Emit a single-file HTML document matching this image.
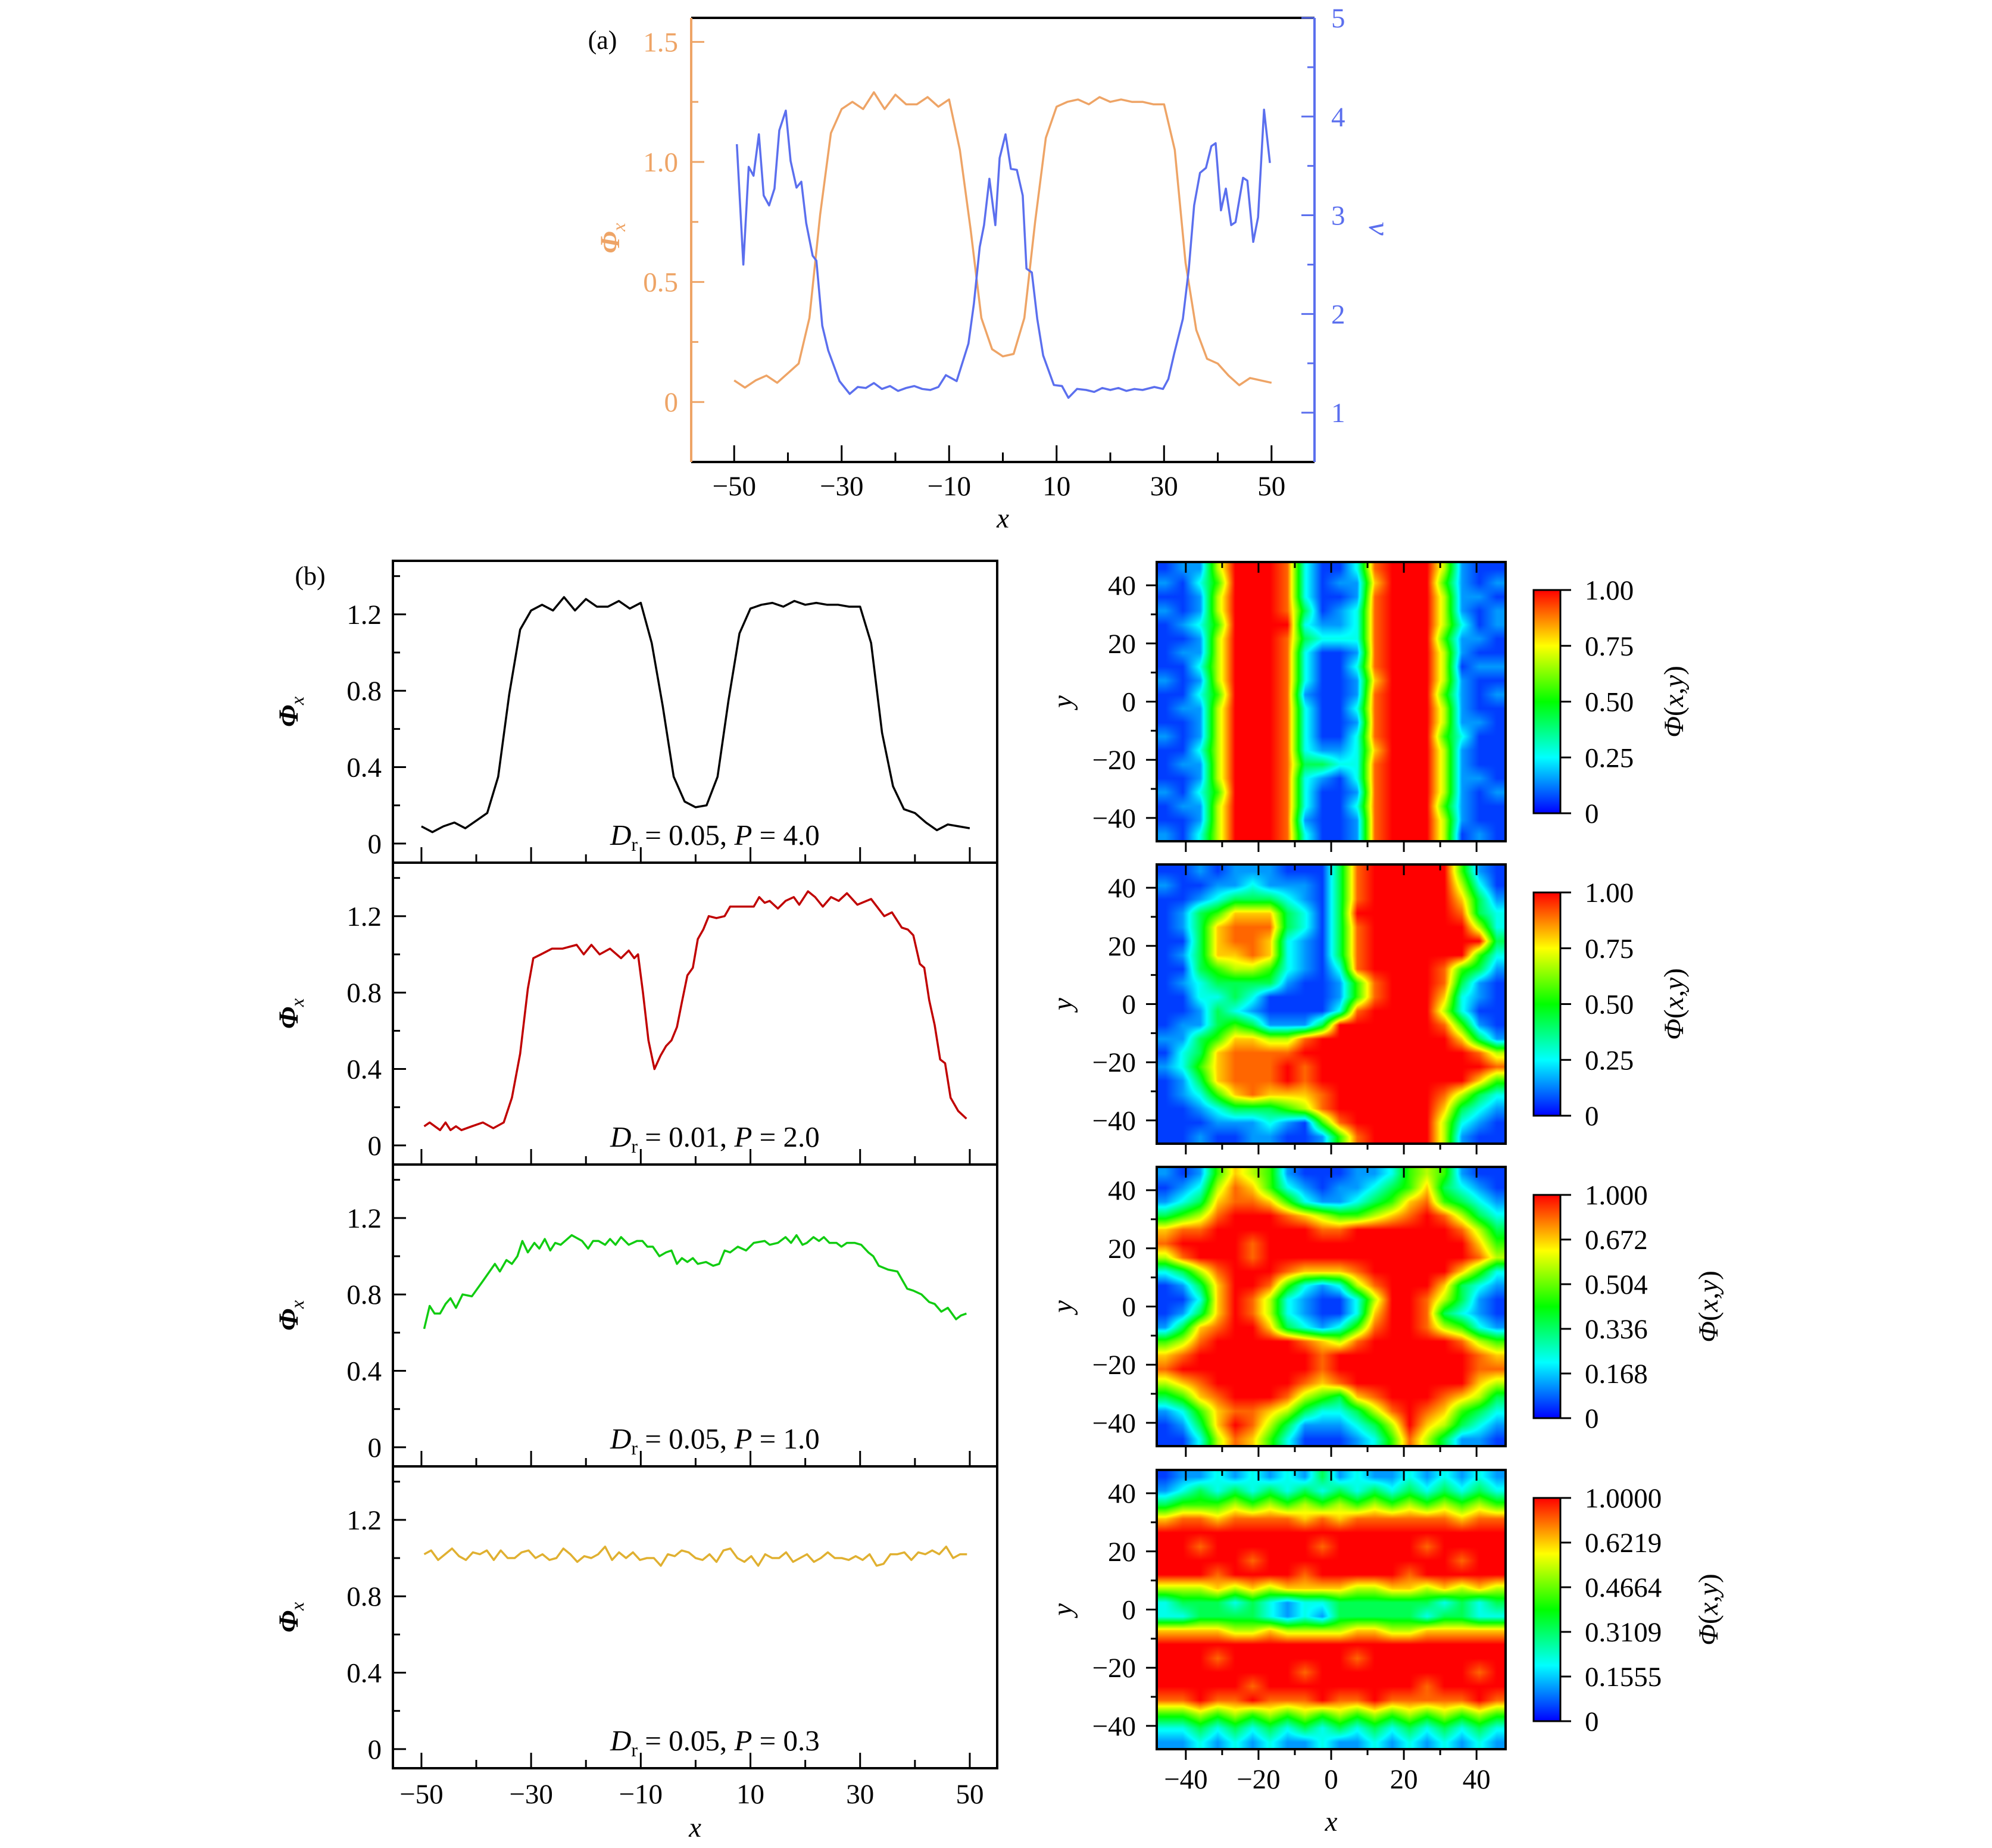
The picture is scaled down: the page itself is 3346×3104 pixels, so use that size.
<!DOCTYPE html>
<html><head><meta charset="utf-8">
<style>
html,body{margin:0;padding:0;background:#fff;}
#wrap{position:relative;width:3346px;height:3104px;overflow:hidden;background:#fff;}
canvas{position:absolute;}
svg{position:absolute;left:0;top:0;}
text{font-family:"Liberation Serif",serif;}
</style></head>
<body>
<div id="wrap">
<canvas id="hm0"></canvas>
<canvas id="hm1"></canvas>
<canvas id="hm2"></canvas>
<canvas id="hm3"></canvas>
<svg id="svg" width="3346" height="3104" xmlns="http://www.w3.org/2000/svg"></svg>
</div>
<script>
// ---------- data ----------
const phiAX=[-50,-48,-46,-44,-42,-40,-38,-36,-34,-32,-30,-28,-26,-24,-22,-20,-18,-16,-14,-12,-10,-8,-6,-4,-2,0,2,4,6,8,10,12,14,16,18,20,22,24,26,28,30,32,34,36,38,40,42,44,46,48,50];
const phiAY=[0.09,0.06,0.09,0.11,0.08,0.12,0.16,0.35,0.78,1.12,1.22,1.25,1.22,1.29,1.22,1.28,1.24,1.24,1.27,1.23,1.26,1.05,0.72,0.35,0.22,0.19,0.20,0.35,0.75,1.10,1.23,1.25,1.26,1.24,1.27,1.25,1.26,1.25,1.25,1.24,1.24,1.05,0.58,0.30,0.18,0.16,0.11,0.07,0.10,0.09,0.08];
const nuX=[-49.5,-48.3,-47.3,-46.4,-45.4,-44.5,-43.5,-42.5,-41.6,-40.4,-39.5,-38.4,-37.5,-36.6,-35.4,-34.7,-33.6,-32.5,-30.4,-28.5,-27,-25.5,-24,-22.5,-21,-19.5,-18,-16.5,-15,-13.5,-12,-10.6,-8.6,-6.4,-5.4,-4.3,-3.5,-2.5,-1.4,-0.6,0.5,1.5,2.6,3.7,4.4,5.4,6.4,7.5,9.5,11,12.2,13.8,15.5,17,18.5,20,21.5,23,24.5,26,28.2,29.8,30.8,31.9,33.5,34.6,35.6,36.7,37.8,38.8,39.6,40.6,41.5,42.5,43.3,44.7,45.5,46.6,47.5,48.6,49.7];
const nuY=[3.72,2.5,3.49,3.4,3.82,3.2,3.1,3.27,3.86,4.06,3.55,3.28,3.34,2.92,2.59,2.54,1.88,1.63,1.32,1.19,1.26,1.25,1.3,1.24,1.27,1.22,1.25,1.27,1.24,1.23,1.26,1.38,1.32,1.7,2.1,2.68,2.9,3.37,2.9,3.58,3.82,3.47,3.46,3.2,2.46,2.42,1.95,1.58,1.28,1.27,1.15,1.24,1.23,1.21,1.25,1.23,1.25,1.22,1.24,1.23,1.26,1.24,1.34,1.6,1.95,2.45,3.1,3.43,3.48,3.7,3.73,3.05,3.27,2.9,2.93,3.38,3.35,2.73,2.98,4.07,3.53];
const blackY=phiAY.slice();
const redX=[-49.5,-48.5,-46.6,-45.6,-44.7,-43.7,-42.7,-40.8,-38.8,-36.9,-35,-33.5,-32,-30.6,-29.6,-28.2,-26.2,-24.3,-21.7,-20.4,-19,-17.5,-15.6,-13.6,-12.2,-11.2,-10.5,-9.6,-8.6,-7.5,-6.4,-5.4,-4.4,-3.4,-2.5,-1.5,-0.5,0.4,1.4,2.4,3.8,5.3,6.3,8.2,10.6,11.6,12.6,13.5,15,16.4,17.9,18.9,20.5,21.8,23.2,24.7,26.1,27.6,29.5,32,34.4,35.8,37.6,38.7,39.7,40.9,41.7,42.6,43.6,44.6,45.5,46.5,47.9,49.4];
const redY=[0.10,0.12,0.08,0.12,0.08,0.10,0.08,0.10,0.12,0.09,0.12,0.25,0.48,0.82,0.98,1.00,1.03,1.03,1.05,1.00,1.05,1.00,1.03,0.98,1.02,0.98,1.00,0.80,0.55,0.40,0.47,0.52,0.55,0.62,0.75,0.89,0.93,1.08,1.13,1.20,1.19,1.20,1.25,1.25,1.25,1.30,1.27,1.28,1.24,1.28,1.30,1.26,1.33,1.30,1.25,1.30,1.28,1.32,1.26,1.29,1.20,1.22,1.14,1.13,1.10,0.95,0.93,0.76,0.63,0.45,0.43,0.25,0.18,0.14];
const greenX=[-49.5,-48.5,-47.6,-46.6,-45.6,-44.7,-43.7,-42.5,-40.8,-38.8,-36.6,-35.7,-34.5,-33.5,-32.5,-31.6,-30.6,-29.4,-28.5,-27.5,-26.5,-25.6,-24.6,-22.6,-20.7,-19.6,-18.7,-17.7,-16.5,-15.6,-14.6,-13.6,-12.2,-10.7,-9.7,-8.8,-7.8,-6.6,-5.4,-4.4,-3.4,-2.5,-1.5,-0.5,0.4,1.9,3.2,4.3,5.3,6.3,7.7,9.2,10.6,12.6,13.5,15,16.4,17.4,18.4,19.5,20.3,21.5,22.5,23.4,24.4,25.7,26.6,27.6,29,30.2,31.5,32.4,33.4,35.1,36.8,38.6,39.7,41.2,42.6,43.6,44.8,46,47.5,48.4,49.4];
const greenY=[0.62,0.74,0.70,0.70,0.75,0.78,0.73,0.80,0.79,0.87,0.96,0.92,0.98,0.96,1.00,1.08,1.02,1.07,1.04,1.09,1.03,1.07,1.06,1.11,1.08,1.04,1.08,1.08,1.06,1.09,1.06,1.10,1.06,1.08,1.08,1.05,1.05,1.00,1.02,1.03,0.96,0.99,0.97,0.99,0.96,0.97,0.95,0.96,1.03,1.02,1.05,1.03,1.07,1.08,1.06,1.07,1.10,1.07,1.11,1.06,1.07,1.10,1.08,1.10,1.07,1.07,1.05,1.07,1.07,1.06,1.02,1.00,0.95,0.93,0.92,0.83,0.82,0.80,0.76,0.75,0.71,0.73,0.67,0.69,0.70];
const yellowY=[1.02,1.04,0.99,1.02,1.05,1.01,0.99,1.03,1.02,1.04,0.99,1.04,1.00,1.00,1.03,1.04,1.00,1.02,0.99,1.00,1.05,1.02,0.98,1.01,1.00,1.02,1.06,0.99,1.03,1.00,1.03,0.99,1.00,1.00,0.96,1.02,1.01,1.04,1.03,1.00,0.99,1.02,0.98,1.04,1.05,1.00,0.98,1.01,0.96,1.02,1.00,1.00,1.03,0.98,1.00,1.02,0.98,1.00,1.03,1.00,1.00,0.99,1.01,0.99,1.02,0.96,0.97,1.02,1.02,1.03,0.99,1.03,1.02,1.04,1.02,1.06,1.00,1.02,1.02];
const xTickLabels=["\u221250","\u221230","\u221210","10","30","50"];
const xTickVals=[-50,-30,-10,10,30,50];
const phiTicksA=[0,0.5,1.0,1.5];
const phiTickLabelsA=["0","0.5","1.0","1.5"];
const nuTicks=[1,2,3,4,5];
const phiTicksB=[0,0.4,0.8,1.2];
const phiTickLabelsB=["0","0.4","0.8","1.2"];
const mapTicks=[-40,-20,0,20,40];
const mapTickLabels=["\u221240","\u221220","0","20","40"];
const cbLabels=[["0","0.25","0.50","0.75","1.00"],["0","0.25","0.50","0.75","1.00"],["0","0.168","0.336","0.504","0.672","1.000"],["0","0.1555","0.3109","0.4664","0.6219","1.0000"]];
const annotations=[["0.05","4.0"],["0.01","2.0"],["0.05","1.0"],["0.05","0.3"]];
const digitLevels=[0,0.06,0.15,0.27,0.42,0.55,0.68,0.8,0.9,1];
const map1Rows=["12269998311389996211","21359998312279995212","11269998311289996221","21269998412389996212","12359999322389996312","11269998433389995221","12269998311289996211","11369998311389996122","21269998311279996211","11359998211289995212","12269998311389996211","11269998311289996221","21269998311389995311","11369998322379996211","12269998443389996211","11269998321389996221","21359998311289996212","12269998311389995211","11269998211289996211","21369998311289996121"];
const map2Rows=["11212221114899999521","21122322214899999631","11234443214899999742","12457774314999999843","12478884314899999963","11478873214899999994","12477873214899999953","11456653213899998542","12344442112589998421","11334311112589997321","11243211113899996311","12245422249999998521","22457766899999999742","13478888999999999986","23578889899999999998","12478889899999999975","12357877789999998643","11234445689999997432","11122232158999996321","11211221125899996211"];
const map3Rows=["21257652111223565211","12368753212234574321","23478875322345785432","45689998765567898643","78899999988999999864","89999899999999999975","68999899999999999986","34689998777899999753","12479985323689997432","11379863211369986421","12479863211379984321","24789974323589986532","56899999876899999865","78999999989999999987","89999999989999999988","67899999878999999976","45789998654789998764","23578876433468987543","12479864222346976432","11368753111235864221"];
const map4Rows=["12232323242322323232","23434343434343434343","45556565656565656565","78878888787888888788","99999999999999999999","99899999989999989999","99999899999999999899","99989999899999899999","66676767777667767676","34443432334444443434","33444432324444434433","77776676666776677777","99999999999999999999","99989999999899999999","99999999899999999989","99999899999999989999","88988988898898888898","55656565656565656565","33434343434343434343","22323232232232323232"];
const mapGrids=[map1Rows,map2Rows,map3Rows,map4Rows];

// ---------- helpers ----------
const NS="http://www.w3.org/2000/svg";
const svg=document.getElementById('svg');
function mk(tag,attrs,parent){const e=document.createElementNS(NS,tag);for(const k in attrs)e.setAttribute(k,attrs[k]);(parent||svg).appendChild(e);return e;}
function line(x1,y1,x2,y2,col,w,name,parent){const e=mk('line',{x1:x1,y1:y1,x2:x2,y2:y2,stroke:col,'stroke-width':w},parent);


return e;}
function txt(x,y,s,size,anchor,col,name,extra,parent){const e=mk('text',Object.assign({x:x,y:y,'font-size':size,'text-anchor':anchor,fill:col},extra||{}),parent);e.textContent=s;


return e;}
function scale(d0,d1,r0,r1){return v=>r0+(v-d0)/(d1-d0)*(r1-r0);}
function poly(xs,ys,sx,sy,col,w,name){const pts=xs.map((x,i)=>sx(x).toFixed(1)+','+sy(ys[i]).toFixed(1)).join(' ');
const e=mk('polyline',{points:pts,fill:'none',stroke:col,'stroke-width':w,'stroke-linejoin':'round'});


return e;}
const FS=47;

// ---------- panel (a) ----------
(function(){
 const X0=1161,X1=2208,Y0=30,Y1=776;
 const sx=scale(-58,58,X0,X1), sy=scale(-0.25,1.6,Y1,Y0), sy2=scale(0.5,5,Y1,Y0);
 const ORG='#EEA466', BLU='#5B6FEE';
 poly(phiAX,phiAY,sx,sy,ORG,3.5,'phi-x-line-a');
 poly(nuX,nuY,sx,sy2,BLU,3.5,'nu-line-a');
 line(X0,Y0,X1,Y0,'#000',4,'top-spine-a');
 line(X0,Y1,X1,Y1,'#000',4,'bottom-spine-a');
 line(X0,Y0,X0,Y1,ORG,4,'left-spine-a');
 line(X1,Y0,X1,Y1,BLU,4,'right-spine-a');
 for(let v=-50;v<=50;v+=10){const x=sx(v);line(x,Y1,x,Y1-(v%20===0?16:28),'#000',3,'x-tick-a');}
 xTickVals.forEach((v,i)=>txt(sx(v),832,xTickLabels[i],FS,'middle','#000','x-tick-label-a'));
 txt((X0+X1)/2,886,'x',FS,'middle','#000','x-axis-title-a',{'font-style':'italic'});
 for(let v=0;v<=1.5;v+=0.25){const y=sy(v);line(X0,y,X0+(Math.abs(v*2-Math.round(v*2))<1e-6?22:12),y,ORG,3,'phi-tick-a');}
 phiTicksA.forEach((v,i)=>txt(X0-22,sy(v)+16,phiTickLabelsA[i],FS,'end',ORG,'phi-tick-label-a'));
 for(let v=1;v<=5;v+=0.5){const y=sy2(v);line(X1,y,X1-(v%1===0?22:12),y,BLU,3,'nu-tick-a');}
 nuTicks.forEach(v=>txt(X1+28,sy2(v)+16,String(v),FS,'start',BLU,'nu-tick-label-a'));
 txt(0,0,'',FS,'middle',ORG,'phi-axis-title-a',{transform:'translate(1040,400) rotate(-90)'}).innerHTML='<tspan font-style="italic" font-weight="bold">\u03A6</tspan><tspan font-style="italic" font-size="32" dy="10">x</tspan>';
 txt(0,0,'\u03BD',FS+4,'middle',BLU,'nu-axis-title-a',{transform:'translate(2300,384) rotate(90)','font-style':'italic'});
 txt(1012,82,'(a)',44,'middle','#000','panel-label-a');
})();

// ---------- panels (b) line profiles ----------
(function(){
 const X0=660,X1=1675,H=507,tops=[942,1449,1956,2463];
 const sx=scale(-55.2,55,X0,X1);
 const seriesX=[phiAX,redX,greenX,yellowY.map((_,i)=>-49.5+i*99/(yellowY.length-1))];
 const seriesY=[blackY,redY,greenY,yellowY];
 const cols=['#000000','#C00000','#11CC11','#E0B030'];
 const names=['profile-p4','profile-p2','profile-p1','profile-p03'];
 tops.forEach((T,k)=>{
  const B=T+H, sy=scale(-0.1,1.48,B,T);
  poly(seriesX[k],seriesY[k],sx,sy,cols[k],3.5,names[k]+'-line');
  for(let v=-50;v<=50;v+=10){const x=sx(v);line(x,B,x,B-(v%20===0?14:26),'#000',3,'x-tick-b');}
  for(let i=0;i<=7;i++){const v=i*0.2;const y=sy(v);line(X0,y,X0+(i%2===0?22:12),y,'#000',3,'y-tick-b');}
  phiTicksB.forEach((v,i)=>txt(X0-19,sy(v)+16,phiTickLabelsB[i],FS,'end','#000','y-tick-label-b'));
  txt(0,0,'',FS,'middle','#000','y-axis-title-b',{transform:'translate(500,'+(T+H/2)+') rotate(-90)'}).innerHTML='<tspan font-style="italic" font-weight="bold">\u03A6</tspan><tspan font-style="italic" font-size="32" dy="10">x</tspan>';
  const a=txt(1025,sy(0)+2,'',FS+2,'start','#000',names[k]+'-annotation');
  a.innerHTML='<tspan font-style="italic">D</tspan><tspan font-size="32" dy="10">r</tspan><tspan dy="-10"> = '+annotations[k][0]+',  </tspan><tspan font-style="italic">P</tspan><tspan> = '+annotations[k][1]+'</tspan>';
  const r=mk('rect',{x:X0,y:T,width:X1-X0,height:H,fill:'none',stroke:'#000','stroke-width':4});
  
  
 });
 xTickVals.forEach((v,i)=>txt(sx(v),3029,xTickLabels[i],FS,'middle','#000','x-tick-label-b'));
 txt((X0+X1)/2,3085,'x',FS,'middle','#000','x-axis-title-b',{'font-style':'italic'});
 txt(521,982,'(b)',44,'middle','#000','panel-label-b');
})();

// ---------- heatmaps ----------
const stops=[[0,[0,0,255]],[0.25,[0,255,255]],[0.5,[0,255,0]],[0.75,[255,255,0]],[1,[255,0,0]]];
function cmap(v){v=Math.max(0,Math.min(1,v));for(let i=1;i<stops.length;i++){if(v<=stops[i][0]){const a=stops[i-1],b=stops[i];const t=(v-a[0])/(b[0]-a[0]);return [0,1,2].map(j=>Math.round(a[1][j]+t*(b[1][j]-a[1][j])));}}return stops[4][1];}
(function(){
 const X0=1943,X1=2529,H=469,tops=[944,1452,1960,2469];
 const W=X1-X0;
 const sx=scale(-48,48,X0,X1);
 const defs=mk('defs',{});
 const lg=mk('linearGradient',{id:'jet',x1:0,y1:1,x2:0,y2:0},defs);
 stops.forEach(s=>mk('stop',{offset:s[0],'stop-color':'rgb('+s[1].join(',')+')'},lg));
 tops.forEach((T,k)=>{
  const rows=mapGrids[k], nr=rows.length;
  const cv=document.getElementById('hm'+k);
  cv.width=W;cv.height=H;cv.style.left=X0+'px';cv.style.top=T+'px';
  const ctx=cv.getContext('2d');const img=ctx.createImageData(W,H);
  const get=(c,r)=>{r=Math.max(0,Math.min(nr-1,r));const row=rows[r];c=Math.max(0,Math.min(row.length-1,c));const d=+row[c];return digitLevels[isNaN(d)?0:d];};
  for(let py=0;py<H;py++){const v=(py+0.5)/H*nr-0.5;const r0=Math.floor(v),fr=v-r0;
   for(let px=0;px<W;px++){const nc=rows[0].length;const u=(px+0.5)/W*nc-0.5;const c0=Math.floor(u),fc=u-c0;
    const val=(get(c0,r0)*(1-fc)+get(c0+1,r0)*fc)*(1-fr)+(get(c0,r0+1)*(1-fc)+get(c0+1,r0+1)*fc)*fr;
    const col=cmap(val);const o=(py*W+px)*4;img.data[o]=col[0];img.data[o+1]=col[1];img.data[o+2]=col[2];img.data[o+3]=255;}}
  ctx.putImageData(img,0,0);
  const B=T+H, sy=scale(-48,48,B,T);
  const r=mk('rect',{x:X0,y:T,width:W,height:H,fill:'none',stroke:'#000','stroke-width':4});
  
  
  for(let v=-40;v<=40;v+=10){const x=sx(v);const L=(v%20===0?18:10);line(x,B,x,B+L,'#000',3,'map-x-tick');line(x,T,x,T+L,'#000',3,'map-x-tick-top');}
  for(let v=-40;v<=40;v+=10){const y=sy(v);line(X0,y,X0-(v%20===0?18:10),y,'#000',3,'map-y-tick');}
  mapTicks.forEach((v,i)=>txt(1908,sy(v)+16,mapTickLabels[i],FS,'end','#000','map-y-tick-label'));
  txt(0,0,'y',FS,'middle','#000','map-y-axis-title',{transform:'translate(1800,'+(T+H/2)+') rotate(-90)','font-style':'italic'});
  const cx=2576,cw=45,ct=T+47,ch=375;
  const cb=mk('rect',{x:cx,y:ct,width:cw,height:ch,fill:'url(#jet)',stroke:'#000','stroke-width':3});
  
  
  const labs=cbLabels[k];
  labs.forEach((s,i)=>{const y=ct+ch-i*ch/(labs.length-1);line(cx+cw,y,cx+cw+18,y,'#000',3,'colorbar-tick');txt(2662,y+16,s,FS,'start','#000','colorbar-tick-label');});
  const lx=k<2?2827:2885;
  txt(0,0,'',FS,'middle','#000','colorbar-title',{transform:'translate('+lx+','+(ct+ch/2)+') rotate(-90)'}).innerHTML='<tspan font-style="italic">\u03A6</tspan>(<tspan font-style="italic">x</tspan>,<tspan font-style="italic">y</tspan>)';
 });
 mapTicks.forEach((v,i)=>txt(sx(v),3004,mapTickLabels[i],FS,'middle','#000','map-x-tick-label'));
 txt((X0+X1)/2,3075,'x',FS,'middle','#000','map-x-axis-title',{'font-style':'italic'});
})();
</script>
</body></html>
